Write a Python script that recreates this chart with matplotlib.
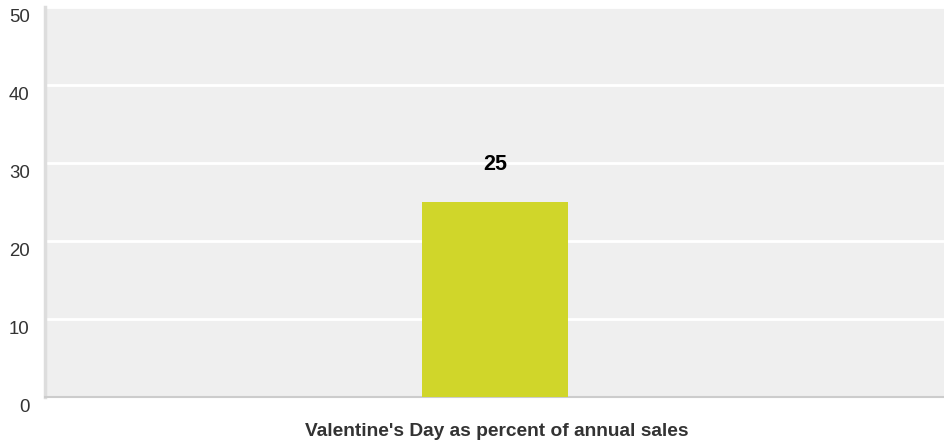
import matplotlib.pyplot as plt
import matplotlib.transforms as mtransforms

categories = ["Valentine's Day as percent of annual sales"]
values = [25]
yticks = [0, 10, 20, 30, 40, 50]

plt.rcParams['font.family'] = ['Liberation Sans', 'DejaVu Sans']

fig = plt.figure(figsize=(9.45, 4.41), dpi=100)
ax = fig.add_axes([45 / 945, 44 / 441, 900 / 945, 390 / 441])
ax.set_facecolor('#efefef')

x = list(range(len(categories)))
bars = ax.bar(x, values, width=0.162, color='#d0d62a', zorder=3)
for b, v in zip(bars, values):
    ax.annotate(str(v), (b.get_x() + b.get_width() / 2, v), xytext=(0, 27),
                textcoords='offset points', ha='center', va='center',
                fontsize=15.5, fontweight='bold', color='black', zorder=4)

ax.set_xlim(-0.5, 0.5)
ax.set_ylim(0, 50)
ax.set_yticks(yticks)
ax.set_yticklabels([str(t) for t in yticks], fontsize=13.4, color='#333333')
ax.grid(axis='y', color='white', linewidth=2, zorder=1)
ax.tick_params(axis='y', length=0, pad=11)
ax.tick_params(axis='x', length=0)
ax.set_xticks([])
off = mtransforms.ScaledTranslation(0, -8 / 100, fig.dpi_scale_trans)
for lab in ax.get_yticklabels():
    lab.set_transform(lab.get_transform() + off)

fig.text(497 / 945, 1 - 432 / 441, categories[0], ha='center', va='center',
         fontsize=13.8, fontweight='bold', color='#333333')

for s in ['top', 'right']:
    ax.spines[s].set_visible(False)
ax.spines['left'].set_color('#dddddd')
ax.spines['left'].set_linewidth(2.5)
ax.spines['bottom'].set_color('#cccccc')
ax.spines['bottom'].set_linewidth(1.5)

plt.savefig('out.png', dpi=100)
